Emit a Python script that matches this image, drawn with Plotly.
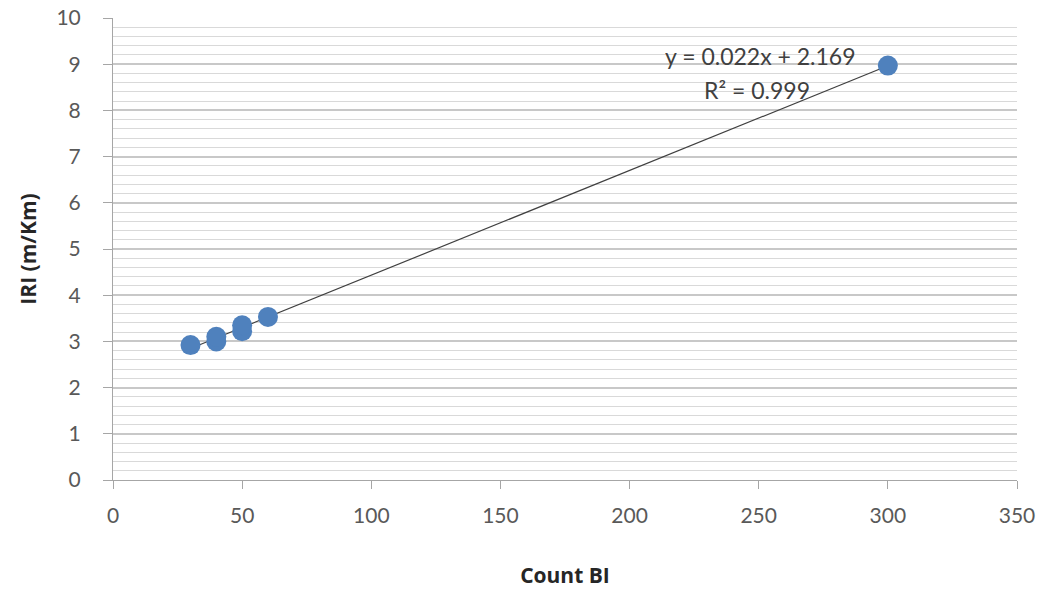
import numpy as np
import plotly.graph_objects as go

count_bi = [30, 40, 40, 50, 50, 60, 300]
iri = [2.92, 3.0, 3.1, 3.22, 3.35, 3.53, 8.97]
eq_text = "y = 0.022x + 2.169"
r2_text = "R² = 0.999"
x_ticks = [0, 50, 100, 150, 200, 250, 300, 350]
y_ticks = list(range(0, 11))

slope, intercept = np.polyfit(count_bi, iri, 1)
tx = [min(count_bi), max(count_bi)]
ty = [slope * v + intercept for v in tx]

font_family = "Lato, 'Open Sans', sans-serif"
title_family = "'Open Sans', Lato, sans-serif"
tick_color = "#595959"

fig = go.Figure()
fig.add_trace(go.Scatter(x=tx, y=ty, mode="lines",
                         line=dict(color="#404040", width=1.2),
                         hoverinfo="skip", showlegend=False))
fig.add_trace(go.Scatter(x=count_bi, y=iri, mode="markers",
                         marker=dict(color="#4f81bd", size=20,
                                     line=dict(width=0)),
                         showlegend=False))

fig.add_annotation(x=250.5, y=9.17, text=eq_text, showarrow=False,
                   font=dict(family=font_family, size=23, color="#404040"))
fig.add_annotation(x=249.5, y=8.45, text=r2_text, showarrow=False,
                   font=dict(family=font_family, size=23, color="#404040"))

fig.update_layout(
    width=1044, height=591,
    margin=dict(l=113, r=27, t=18, b=111),
    paper_bgcolor="white", plot_bgcolor="white",
    font=dict(family=font_family, size=21, color=tick_color),
)
fig.update_xaxes(
    range=[0, 350], tickvals=x_ticks, ticks="outside", ticklen=8,
    tickcolor="#a6a6a6", showline=True, linecolor="#a6a6a6", linewidth=1,
    showgrid=False, zeroline=False, automargin=False,
    ticklabelstandoff=9, ticklabeloverflow="allow",
    tickfont=dict(size=21, color=tick_color),
    title=dict(text="<b>Count BI</b>", standoff=42,
               font=dict(family=title_family, size=21, color="#262626")),
)
fig.update_yaxes(
    range=[0, 10], tickvals=y_ticks, ticks="outside", ticklen=9,
    tickcolor="#a6a6a6", showline=True, linecolor="#a6a6a6", linewidth=1,
    showgrid=True, gridcolor="#c8c8c8", gridwidth=1.5, zeroline=False,
    automargin=False, ticklabelstandoff=18, ticklabeloverflow="allow",
    minor=dict(dtick=0.2, showgrid=True, gridcolor="#d9d9d9", gridwidth=1,
               ticks=""),
    tickfont=dict(size=21, color=tick_color),
    title=dict(text="<b>IRI (m/Km)</b>", standoff=14,
               font=dict(family=title_family, size=21, color="#262626")),
)

fig.write_html("out.html",
               config={"displayModeBar": False},
               post_script="document.body.style.margin='0';")
